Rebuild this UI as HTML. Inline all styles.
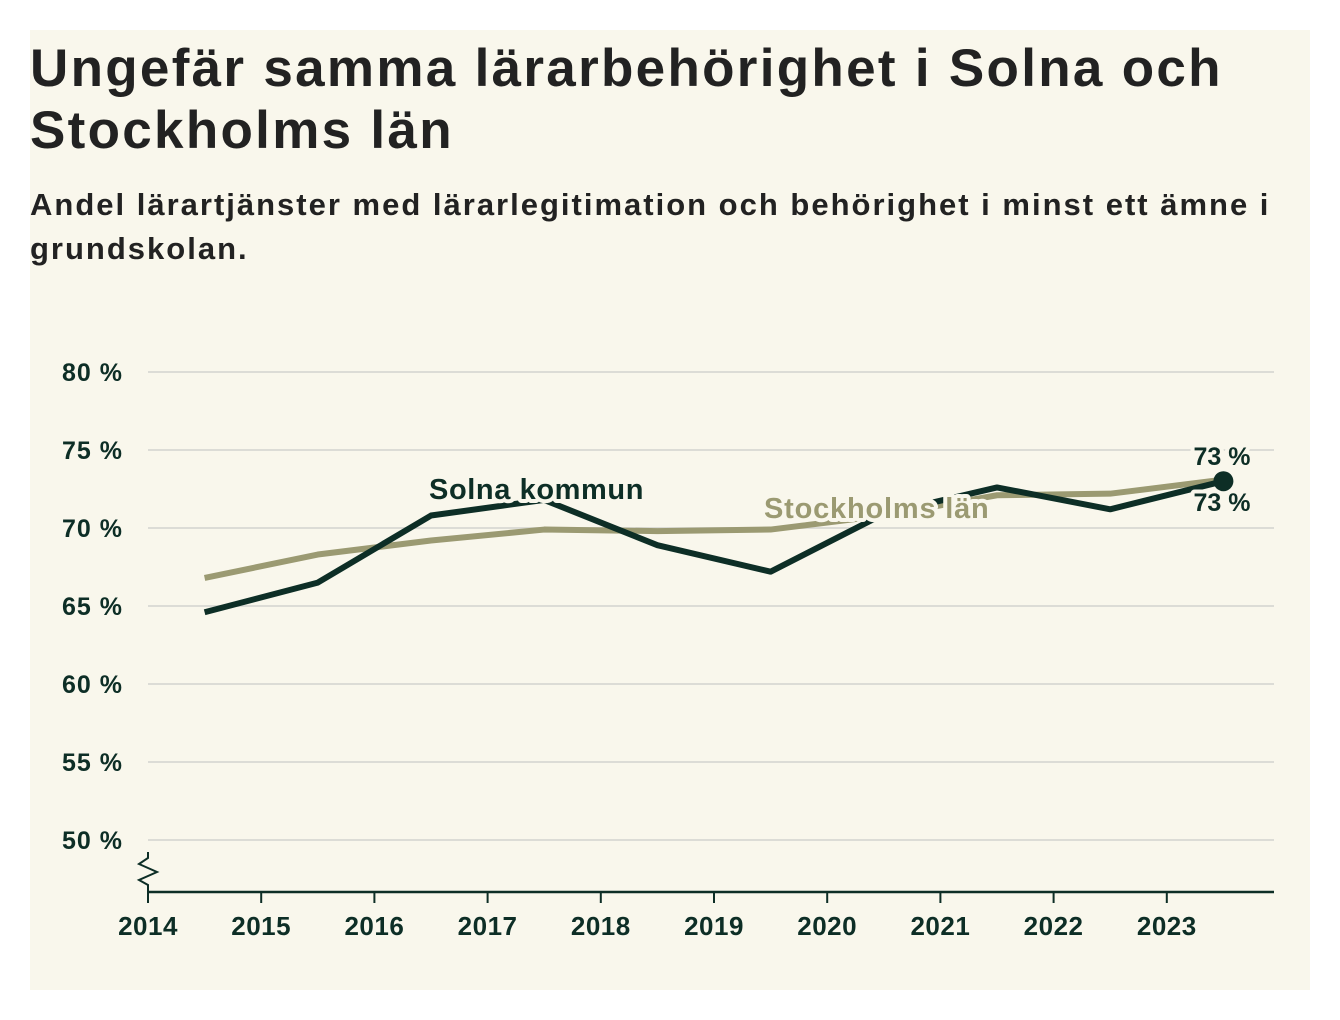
<!DOCTYPE html>
<html><head><meta charset="utf-8">
<style>
body{margin:0;background:#fff;width:1340px;height:1020px;overflow:hidden;font-family:"Liberation Sans",sans-serif}
#panel{position:absolute;left:30px;top:30px;width:1280px;height:960px;background:#f9f7ec}
h1{position:absolute;left:0;top:8px;margin:0;font-size:53px;line-height:62px;font-weight:bold;color:#222;letter-spacing:2.3px;white-space:nowrap}
h2{position:absolute;left:0;top:153px;margin:0;font-size:31px;line-height:44px;font-weight:bold;color:#222;width:1275px;letter-spacing:2.0px}
svg{position:absolute;left:0;top:0}
</style></head><body>
<div id="panel">
<h1>Ungefär samma lärarbehörighet i Solna och<br>Stockholms län</h1>
<h2>Andel lärartjänster med lärarlegitimation och behörighet i minst ett ämne i grundskolan.</h2>
</div>
<svg id="chart" width="1340" height="1020"></svg>
<script>
const years=[2014.5,2015.5,2016.5,2017.5,2018.5,2019.5,2020.5,2021.5,2022.5,2023.5];
const solna=[64.6,66.5,70.8,71.8,68.9,67.2,70.9,72.6,71.2,73.0];
const stockholm=[66.8,68.3,69.2,69.9,69.8,69.9,70.8,72.1,72.2,73.1];
const yTicks=[50,55,60,65,70,75,80];
const xTicks=[2014,2015,2016,2017,2018,2019,2020,2021,2022,2023];
const NS="http://www.w3.org/2000/svg";
const svg=document.getElementById('chart');
const X=v=>148+(v-2014)*113.2;
const Y=v=>528-(v-70)*15.6;
function mk(t,a,p){const e=document.createElementNS(NS,t);for(const k in a)e.setAttribute(k,a[k]);(p||svg).appendChild(e);return e;}
const F='"Liberation Sans",sans-serif';
yTicks.forEach(t=>{
 const g=mk('line',{x1:148,x2:1274,y1:Y(t),y2:Y(t),stroke:'#dcdcd6','stroke-width':2});
 
 
 const l=mk('text',{x:123,y:Y(t)+9,'text-anchor':'end','font-size':25,'font-weight':'bold','font-family':F,fill:'#0d2e26','letter-spacing':1});
 l.textContent=t+' %';
 
 
});
const ax=mk('line',{x1:148,x2:1274,y1:892,y2:892,stroke:'#0d2e26','stroke-width':2.5});


const br=mk('path',{d:'M148 852 L148 858 L139 864 L157 872 L139 880 L148 885 L148 892',fill:'none',stroke:'#0d2e26','stroke-width':2});


xTicks.forEach(t=>{
 const tk=mk('line',{x1:X(t),x2:X(t),y1:892,y2:903,stroke:'#0d2e26','stroke-width':2});
 
 
 const l=mk('text',{x:X(t),y:935,'text-anchor':'middle','font-size':26,'font-weight':'bold','font-family':F,fill:'#0d2e26','letter-spacing':0.5});
 l.textContent=t;
 
 
});
function pts(arr){return arr.map((v,i)=>X(years[i])+','+Y(v)).join(' ');}
const s1=mk('polyline',{points:pts(stockholm),fill:'none',stroke:'#9b9a72','stroke-width':6,'stroke-linejoin':'round'});


const s2=mk('polyline',{points:pts(solna),fill:'none',stroke:'#0d2e26','stroke-width':6,'stroke-linejoin':'round'});


const dot=mk('circle',{cx:X(years[9]),cy:Y(solna[9]),r:10,fill:'#0d2e26'});


function lab(txt,x,y,fill,name,anchor,size,ls){
 const t=mk('text',{x:x,y:y,'text-anchor':anchor||'start','font-size':size||29,'font-weight':'bold','font-family':F,fill:fill,stroke:'#f9f7ec','stroke-width':8,'paint-order':'stroke','stroke-linejoin':'round','letter-spacing':ls||0});
 t.textContent=txt;
 
 
}
lab('Solna kommun',429,499,'#0d2e26','solna-label','start',29,0.6);
lab('Stockholms län',764,518,'#9b9a72','stockholm-label','start',29,0.8);
lab(Math.round(solna[9])+' %',1222,465,'#0d2e26','solna-value-label','middle',25);
lab(Math.round(stockholm[9])+' %',1222,511,'#0d2e26','stockholm-value-label','middle',25);
</script>
</body></html>
